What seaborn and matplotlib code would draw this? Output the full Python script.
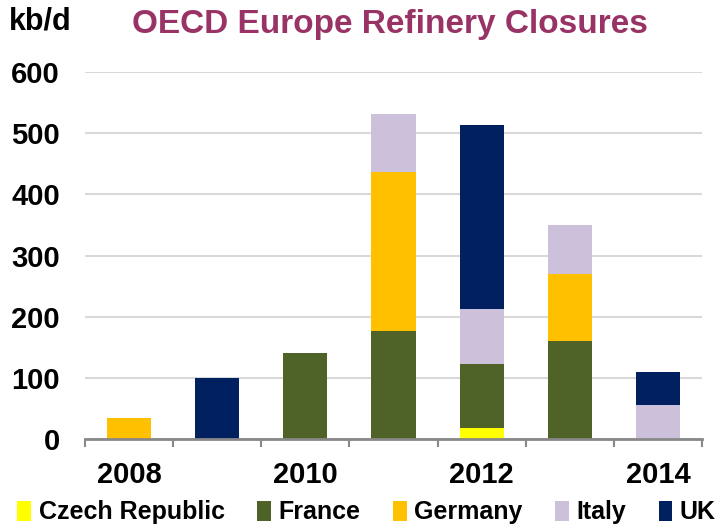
import matplotlib
matplotlib.use("Agg")
import matplotlib.pyplot as plt
import seaborn as sns
import pandas as pd
import numpy as np
from matplotlib.patches import Patch

years = ["2008", "2009", "2010", "2011", "2012", "2013", "2014"]
czech = [0, 0, 0, 0, 18, 0, 0]
france = [0, 0, 141, 177, 104, 160, 0]
germany = [34, 0, 0, 260, 0, 110, 0]
italy = [0, 0, 0, 95, 90, 80, 56]
uk = [0, 100, 0, 0, 302, 0, 54]

series = ["Czech Republic", "France", "Germany", "Italy", "UK"]
colors = ["#FFFF00", "#4F6228", "#FFC000", "#CCC0DA", "#002060"]

sns.set_theme(style="white")
plt.rcParams['font.family'] = ['Liberation Sans', 'DejaVu Sans']
plt.rcParams['font.weight'] = 'bold'
plt.rcParams['text.color'] = 'black'
plt.rcParams['xtick.color'] = 'black'
plt.rcParams['ytick.color'] = 'black'
plt.rcParams['xtick.labelcolor'] = 'black'
plt.rcParams['ytick.labelcolor'] = 'black'

fig = plt.figure(figsize=(7.26, 5.27), dpi=100)
ax = fig.add_axes([0.117, 0.167, 0.850, 0.696])

vals = [czech, france, germany, italy, uk]
cum = np.cumsum(np.array(vals), axis=0)
df = pd.DataFrame({"year": years})
for i, s in enumerate(series):
    df[s] = cum[i]

# draw from top layer down so lower layers overlay
for i in range(len(series) - 1, -1, -1):
    sns.barplot(data=df, x="year", y=series[i], color=colors[i], width=0.5,
                saturation=1, ax=ax, zorder=3, edgecolor="none", linewidth=0)

ax.set_ylim(0, 600)
ax.set_xlim(-0.5, 6.5)
ax.set_yticks(range(0, 601, 100))
ax.yaxis.grid(True, color="#D9D9D9", linewidth=1.5, zorder=0)
ax.set_axisbelow(True)
ax.set_xlabel("")
ax.set_ylabel("")

ax.set_xticks([0, 2, 4, 6])
ax.set_xticklabels(["2008", "2010", "2012", "2014"], fontsize=21, fontweight="bold")
ax.set_xticks(np.arange(-0.5, 7, 1), minor=True)
ax.tick_params(axis="x", which="major", length=0, pad=16, labelcolor="black")
ax.tick_params(axis="x", which="minor", length=6, width=1.5, color="#888888", direction="out", bottom=True)
ax.tick_params(axis="y", length=0, pad=18, labelsize=21, labelcolor="black")
for lab in ax.get_yticklabels():
    lab.set_fontweight("bold")

for s in ["top", "right", "left"]:
    ax.spines[s].set_visible(False)
ax.spines["bottom"].set_color("#888888")
ax.spines["bottom"].set_linewidth(2)
ax.spines["bottom"].set_zorder(4)

fig.text(0.537, 0.953, "OECD Europe Refinery Closures", ha="center", va="center",
         fontsize=24, fontweight="bold", color="#993366")
fig.text(0.012, 0.960, "kb/d", ha="left", va="center", fontsize=22, fontweight="bold", color="black")

handles = [Patch(facecolor=c, edgecolor="none") for c in colors]
leg = fig.legend(handles, series, loc="center", bbox_to_anchor=(0.505, 0.028), ncol=5,
                 frameon=False, handlelength=0.55, handleheight=0.85,
                 handletextpad=0.3, columnspacing=1.3, prop={"weight": "bold", "size": 18})
for t in leg.get_texts():
    t.set_color("black")

fig.savefig("out.png", dpi=100)
